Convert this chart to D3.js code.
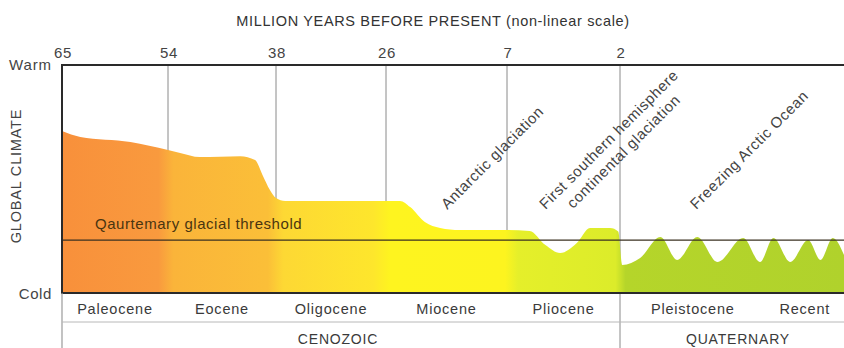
<!DOCTYPE html>
<html>
<head>
<meta charset="utf-8">
<script src="https://cdn.jsdelivr.net/npm/d3@7"></script>
<style>
  html, body { margin: 0; padding: 0; background: #fff; }
  svg { display: block; }
  text { font-family: "Liberation Sans", Arial, Helvetica, sans-serif; fill: #3a3a3a; }
</style>
</head>
<body>
<svg id="chart" width="844" height="348"></svg>
<script>
// Boundary ages (million years before present) shown as ticks
const tickAges = [65, 54, 38, 26, 7, 2];
const tickLabels = ["65", "54", "38", "26", "7", "2"];

// Epochs: name, start age, end age
const epochNames = ["Paleocene", "Eocene", "Oligocene", "Miocene", "Pliocene", "Pleistocene", "Recent"];
const epochStart = [65, 54, 38, 26, 7, 2, 0.7];
const epochEnd   = [54, 38, 26, 7, 2, 0.7, 0];

// Eras
const eraNames = ["CENOZOIC", "QUATERNARY"];
const eraStart = [65, 2];
const eraEnd   = [2, 0];

// Global climate index (0 = cold, 10 = warm) through time
const climateAge = [65, 63.1, 57.9, 54, 52.2, 49.3, 43.3, 41.1, 40.0, 38.9, 38, 37.0,
                    23.8, 22.2, 19.9, 17.5, 14.4, 7, 6.0, 5.3, 4.65, 3.9, 3.33, 2.44, 2.08, 1.98,
                    1.82, 1.64, 1.49, 1.31, 1.13, 0.90, 0.75, 0.63, 0.48, 0.32, 0.21, 0.10, 0];
const climateValue = [7.1, 6.84, 6.62, 6.27, 6.14, 5.96, 6.0, 5.83, 5.18, 4.52, 4.17, 4.04,
                      4.04, 3.77, 3.11, 2.85, 2.76, 2.76, 2.72, 2.1, 1.75, 2.2, 2.85, 2.85, 2.7, 1.23,
                      1.54, 2.46, 1.45, 2.46, 1.36, 2.41, 1.36, 2.41, 1.36, 2.32, 1.45, 2.41, 1.67];

// Threshold for Quaternary-style glaciation
const thresholdValue = 2.32;

// Colour ramp along the time axis (age, colour)
const rampAge =   [65, 55, 53.2, 39.2, 37.2, 27.4, 25.3, 7.3, 6.5, 2.2, 1.95, 0];
const rampColor = ["#f8903b", "#f99a3e", "#fab43a", "#fbbf38", "#fdd834", "#fee62c", "#fef41f",
                   "#fdf41f", "#e5ef2a", "#dcec2a", "#b5d52a", "#b0d22c"];

// Event annotations (age where the text starts, lines of text)
const eventAge = [16.4, 5.3, 1.32];
const eventLines = [["Antarctic glaciation"],
                    ["First southern hemisphere", "continental glaciation"],
                    ["Freezing Arctic Ocean"]];

const svg = d3.select("#chart");
const plotLeft = 62, plotRight = 844, plotTop = 65, plotBottom = 293;

// Non-linear (piecewise) time scale
const x = d3.scaleLinear()
  .domain([65, 54, 38, 26, 7, 2, 0])
  .range([plotLeft, 168, 276, 386, 507, 620, plotRight]);
const y = d3.scaleLinear().domain([0, 10]).range([plotBottom, plotTop]);

// Gradient for the area fill
const defs = svg.append("defs");
const grad = defs.append("linearGradient")
  .attr("id", "ramp").attr("gradientUnits", "userSpaceOnUse")
  .attr("x1", plotLeft).attr("x2", plotRight).attr("y1", 0).attr("y2", 0);
rampAge.forEach((a, i) => {
  grad.append("stop")
    .attr("offset", (x(a) - plotLeft) / (plotRight - plotLeft))
    .attr("stop-color", rampColor[i]);
});

// Vertical boundary lines (behind the area)
svg.append("g").selectAll("line")
  .data(tickAges.slice(1))
  .join("line")
  .attr("x1", d => x(d)).attr("x2", d => x(d))
  .attr("y1", plotTop).attr("y2", d => d === 2 ? 348 : plotBottom)
  .attr("stroke", "#8a8a8a").attr("stroke-width", 1);

// Climate area
const pts = climateAge.map((a, i) => [a, climateValue[i]]);
const area = d3.area()
  .x(d => x(d[0]))
  .y0(plotBottom)
  .y1(d => y(d[1]))
  .curve(d3.curveMonotoneX);
svg.append("path")
  .datum(pts)
  .attr("d", area)
  .attr("fill", "url(#ramp)");

// Threshold line and label
svg.append("line")
  .attr("x1", plotLeft).attr("x2", plotRight)
  .attr("y1", y(thresholdValue)).attr("y2", y(thresholdValue))
  .attr("stroke", "#3a3020").attr("stroke-width", 1.2);
svg.append("text")
  .attr("x", 95).attr("y", y(thresholdValue) - 11)
  .attr("font-size", 15).style("letter-spacing", "0.55px")
  .style("fill", "#4a3510")
  .text("Qaurtemary glacial threshold");

// Frame
svg.append("line").attr("x1", plotLeft - 1).attr("x2", plotRight).attr("y1", plotTop).attr("y2", plotTop)
  .attr("stroke", "#2a2a2a").attr("stroke-width", 2);
svg.append("line").attr("x1", plotLeft - 1).attr("x2", plotRight).attr("y1", plotBottom).attr("y2", plotBottom)
  .attr("stroke", "#2a2a2a").attr("stroke-width", 2);
svg.append("line").attr("x1", plotLeft).attr("x2", plotLeft).attr("y1", plotTop).attr("y2", plotBottom)
  .attr("stroke", "#2a2a2a").attr("stroke-width", 2);
svg.append("line").attr("x1", plotLeft).attr("x2", plotLeft).attr("y1", plotBottom).attr("y2", 348)
  .attr("stroke", "#9a9a9a").attr("stroke-width", 1.2);
svg.append("line").attr("x1", plotLeft).attr("x2", plotRight).attr("y1", 322).attr("y2", 322)
  .attr("stroke", "#b8b8b8").attr("stroke-width", 1);

// Top axis labels
svg.append("g").selectAll("text")
  .data(tickAges)
  .join("text")
  .attr("x", d => x(d) + 1)
  .attr("y", 58)
  .attr("text-anchor", "middle")
  .attr("font-size", 15).style("letter-spacing", "0.6px")
  .style("fill", "#444")
  .text((d, i) => tickLabels[i]);

svg.append("text")
  .attr("x", 433).attr("y", 26)
  .attr("text-anchor", "middle")
  .attr("font-size", 14.5).style("letter-spacing", "0.65px")
  .style("fill", "#333")
  .text("MILLION YEARS BEFORE PRESENT (non-linear scale)");

// Y axis labels
svg.append("text").attr("x", 52).attr("y", 70).attr("text-anchor", "end")
  .attr("font-size", 15).style("letter-spacing", "0.9px").style("fill", "#444").text("Warm");
svg.append("text").attr("x", 52).attr("y", 299).attr("text-anchor", "end")
  .attr("font-size", 15).style("letter-spacing", "0.6px").style("fill", "#444").text("Cold");
svg.append("text")
  .attr("transform", "translate(21,176) rotate(-90)")
  .attr("text-anchor", "middle")
  .attr("font-size", 14.5).style("letter-spacing", "0.8px")
  .style("fill", "#444")
  .text("GLOBAL CLIMATE");

// Epoch labels
svg.append("g").selectAll("text")
  .data(epochNames)
  .join("text")
  .attr("x", (d, i) => x((epochStart[i] + epochEnd[i]) / 2))
  .attr("y", 314)
  .attr("text-anchor", "middle")
  .attr("font-size", 14.5).style("letter-spacing", "0.8px")
  .style("fill", "#3a3a3a")
  .text(d => d);

// Era labels
svg.append("g").selectAll("text")
  .data(eraNames)
  .join("text")
  .attr("x", (d, i) => i === 0 ? 338 : 738)
  .attr("y", 344)
  .attr("text-anchor", "middle")
  .attr("font-size", 14).style("letter-spacing", "0.8px")
  .style("fill", "#3a3a3a")
  .text(d => d);

// Event annotations, written diagonally
const ev = svg.append("g").selectAll("g")
  .data(eventLines)
  .join("g")
  .attr("transform", (d, i) => `translate(${x(eventAge[i])},210) rotate(-45)`);
ev.each(function(lines) {
  const g = d3.select(this);
  lines.forEach((t, j) => {
    g.append("text")
      .attr("x", j * 20).attr("y", j * 19)
      .attr("font-size", 15).style("letter-spacing", "0.6px")
      .style("fill", "#444")
      .text(t);
  });
});
</script>
</body>
</html>
